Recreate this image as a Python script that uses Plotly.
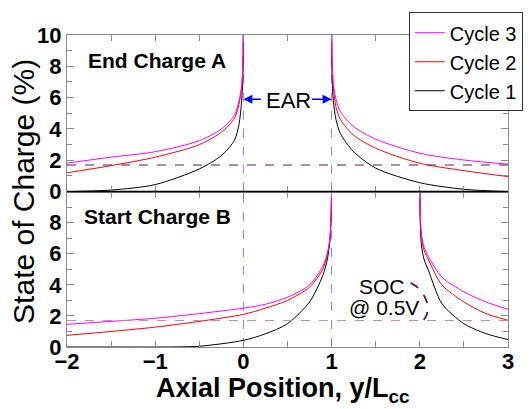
import plotly.graph_objects as go

# ---------------- data ----------------
# Top panel "End Charge A": left segment (x from -2 to 0)
x_top_left = [-2, -1.5, -1, -0.5, -0.25, -0.1, -0.05, -0.02, -0.005, 0]
c3_top_left = [1.82, 2.2, 2.55, 3.25, 4.0, 4.9, 5.8, 6.8, 8.5, 11]
c2_top_left = [1.2, 1.66, 2.2, 3.0, 3.8, 4.7, 5.6, 6.6, 8.3, 11]
c1_top_left = [0.0, 0.1, 0.45, 1.45, 2.3, 3.3, 4.3, 5.8, 7.5, 11]

# Top panel: right segment (x from 1 to 3)
x_top_right = [1, 1.005, 1.02, 1.05, 1.1, 1.25, 1.5, 2, 2.5, 3]
c3_top_right = [11, 8.5, 6.9, 5.9, 5.1, 4.15, 3.35, 2.45, 2.02, 1.75]
c2_top_right = [11, 8.3, 6.6, 5.4, 4.6, 3.6, 2.77, 1.81, 1.34, 0.96]
c1_top_right = [11, 7.5, 5.8, 4.6, 3.7, 2.55, 1.5, 0.57, 0.15, 0.0]

# Bottom panel "Start Charge B": left segment (x from -2 to 1)
x_bot_left = [-2, -1.5, -1, -0.5, 0, 0.25, 0.5, 0.75, 0.9, 0.95, 0.98, 0.995, 1]
c3_bot_left = [1.46, 1.65, 1.85, 2.15, 2.5, 2.75, 3.2, 4.0, 5.2, 6.0, 7.0, 8.6, 11]
c2_bot_left = [0.75, 1.0, 1.28, 1.65, 2.1, 2.5, 3.0, 3.85, 5.0, 5.9, 6.9, 8.5, 11]
c1_bot_left = [0.0, 0.0, 0.0, 0.05, 0.43, 0.85, 1.5, 2.9, 4.6, 5.6, 6.8, 8.5, 11]

# Bottom panel: right segment (x from 2 to 3)
x_bot_right = [2, 2.005, 2.02, 2.05, 2.1, 2.25, 2.5, 2.75, 3]
c3_bot_right = [11, 8.6, 7.2, 6.4, 5.8, 4.5, 3.55, 2.9, 2.43]
c2_bot_right = [11, 8.5, 7.0, 6.2, 5.6, 4.0, 2.9, 2.15, 1.72]
c1_bot_right = [11, 8.0, 6.5, 5.6, 4.9, 2.8, 1.5, 0.86, 0.48]

# SOC @ 0.5 V reference level and the dashed arc marking it
soc_05v = 1.7
arc_x = [1.895, 1.989, 2.064, 2.091, 2.076, 2.027]
arc_y = [4.13, 3.77, 3.12, 2.58, 2.05, 1.61]

# EAR boundaries
ear_bounds = [0, 1]

x_ticks = [-2, -1, 0, 1, 2, 3]
y_ticks_top = [0, 2, 4, 6, 8, 10]
y_ticks_bot = [0, 2, 4, 6, 8]

cycle_names = ["Cycle 1", "Cycle 2", "Cycle 3"]
cycle_colors = ["#000000", "#ff0000", "#ff00ff"]

FONT = "Liberation Sans, Arial, sans-serif"
GRAY = "#8a8a8a"

# ---------------- figure ----------------
fig = go.Figure()

segments = [
    ("x", "y", x_top_left, [c1_top_left, c2_top_left, c3_top_left]),
    ("x", "y", x_top_right, [c1_top_right, c2_top_right, c3_top_right]),
    ("x2", "y2", x_bot_left, [c1_bot_left, c2_bot_left, c3_bot_left]),
    ("x2", "y2", x_bot_right, [c1_bot_right, c2_bot_right, c3_bot_right]),
]

# EAR boundaries (light blue dashed)
for xb in ear_bounds:
    for xa, ya in (("x", "y"), ("x2", "y2")):
        fig.add_trace(go.Scatter(
            x=[xb, xb], y=[0, 10], xaxis=xa, yaxis=ya, mode="lines",
            line=dict(color="#7c7cff", width=1, dash="dash"),
            showlegend=False, hoverinfo="skip",
        ))

for ci, (name, color) in enumerate(zip(cycle_names, cycle_colors)):
    for si, (xa, ya, xs, ys) in enumerate(segments):
        fig.add_trace(go.Scatter(
            x=xs, y=ys[ci], xaxis=xa, yaxis=ya, mode="lines",
            line=dict(color=color, width=1, shape="spline", smoothing=0.8),
            name=name, legendgroup=name, showlegend=(si == 0),
        ))

# dashed arc around "SOC @ 0.5V"
fig.add_trace(go.Scatter(
    x=arc_x, y=arc_y, xaxis="x2", yaxis="y2", mode="lines",
    line=dict(color="#5c1a4e", width=1.8, dash="dash", shape="spline"),
    showlegend=False, hoverinfo="skip",
))

split = 0.498

shapes = []
# horizontal SOC@0.5V dashed lines
shapes.append(dict(type="line", xref="x", yref="y", x0=-2, x1=3, y0=soc_05v, y1=soc_05v,
                   line=dict(color="#5c1a4e", width=1, dash="dash")))
shapes.append(dict(type="line", xref="x2", yref="y2", x0=-2, x1=3, y0=soc_05v, y1=soc_05v,
                   line=dict(color="#b58aa6", width=1, dash="dash")))
# black divider between the panels
shapes.append(dict(type="line", xref="paper", yref="paper", x0=0, x1=1, y0=split, y1=split,
                   line=dict(color="#000000", width=1.5)))

annotations = [
    dict(text="<b>End Charge A</b>", x=-0.976, y=8.35, xref="x", yref="y", showarrow=False,
         font=dict(family=FONT, size=21, color="black")),
    dict(text="<b>Start Charge B</b>", x=-0.97, y=8.4, xref="x2", yref="y2", showarrow=False,
         font=dict(family=FONT, size=21, color="black")),
    dict(text="EAR", x=0.507, y=5.85, xref="x", yref="y", showarrow=False,
         font=dict(family=FONT, size=22, color="black")),
    dict(text="", x=0.0, y=5.9, ax=0.215, ay=5.9, xref="x", yref="y", axref="x", ayref="y",
         showarrow=True, arrowhead=2, arrowsize=1.2, arrowwidth=1.5, arrowcolor="#0000ff"),
    dict(text="", x=1.0, y=5.9, ax=0.76, ay=5.9, xref="x", yref="y", axref="x", ayref="y",
         showarrow=True, arrowhead=2, arrowsize=1.2, arrowwidth=1.5, arrowcolor="#0000ff"),
    dict(text="SOC", x=1.566, y=3.9, xref="x2", yref="y2", showarrow=False,
         font=dict(family=FONT, size=21, color="black")),
    dict(text="@ 0.5V", x=1.589, y=2.55, xref="x2", yref="y2", showarrow=False,
         font=dict(family=FONT, size=21, color="black")),
    dict(text="State of Charge (%)", x=-0.1, y=0.5, xref="paper", yref="paper",
         textangle=-90, showarrow=False, xanchor="center", yanchor="middle",
         font=dict(family=FONT, size=30, color="black")),
    dict(text="<b>Axial Position, y/L<sub>cc</sub></b>", x=0.49, y=-0.137, xref="paper", yref="paper",
         showarrow=False, xanchor="center", yanchor="middle",
         font=dict(family=FONT, size=27, color="black")),
]

common_x = dict(range=[-2, 3], showgrid=False, zeroline=False, showline=True, linecolor=GRAY,
                linewidth=1, mirror="ticks", ticks="inside", ticklen=6, tickcolor=GRAY,
                tickvals=x_ticks,
                minor=dict(dtick=0.5, tick0=0, ticks="inside", ticklen=6, tickcolor=GRAY))

fig.update_layout(
    width=532, height=409,
    margin=dict(l=67, r=24, t=35, b=62, autoexpand=False),
    paper_bgcolor="white", plot_bgcolor="white",
    font=dict(family=FONT, color="black"),
    xaxis=dict(**common_x, anchor="y", showticklabels=False),
    xaxis2=dict(**common_x, anchor="y2", showticklabels=True, ticklabelstandoff=-5,
                tickfont=dict(family=FONT, size=22, color="black", weight="bold")),
    yaxis=dict(domain=[split, 1], range=[0, 10], showgrid=False, zeroline=False, showline=True,
               linecolor=GRAY, mirror="ticks", ticks="inside", ticklen=7, tickcolor=GRAY,
               tickvals=y_ticks_top, anchor="x",
               tickfont=dict(family=FONT, size=22, color="black", weight="bold"),
               minor=dict(dtick=1, tick0=0, ticks="inside", ticklen=5, tickcolor=GRAY)),
    yaxis2=dict(domain=[0, split], range=[0, 10], showgrid=False, zeroline=False, showline=True,
                linecolor=GRAY, mirror="ticks", ticks="inside", ticklen=7, tickcolor=GRAY,
                tickvals=y_ticks_bot, anchor="x2",
                tickfont=dict(family=FONT, size=22, color="black", weight="bold"),
                minor=dict(dtick=1, tick0=0, ticks="inside", ticklen=5, tickcolor=GRAY)),
    legend=dict(x=0.775, y=1.073, xanchor="left", yanchor="top", traceorder="reversed",
                bgcolor="white", bordercolor="#333333", borderwidth=1,
                font=dict(family=FONT, size=20, color="black"), itemwidth=30,
                tracegroupgap=0),
    shapes=shapes,
    annotations=annotations,
    showlegend=True,
)

fig.write_html("out.html")
